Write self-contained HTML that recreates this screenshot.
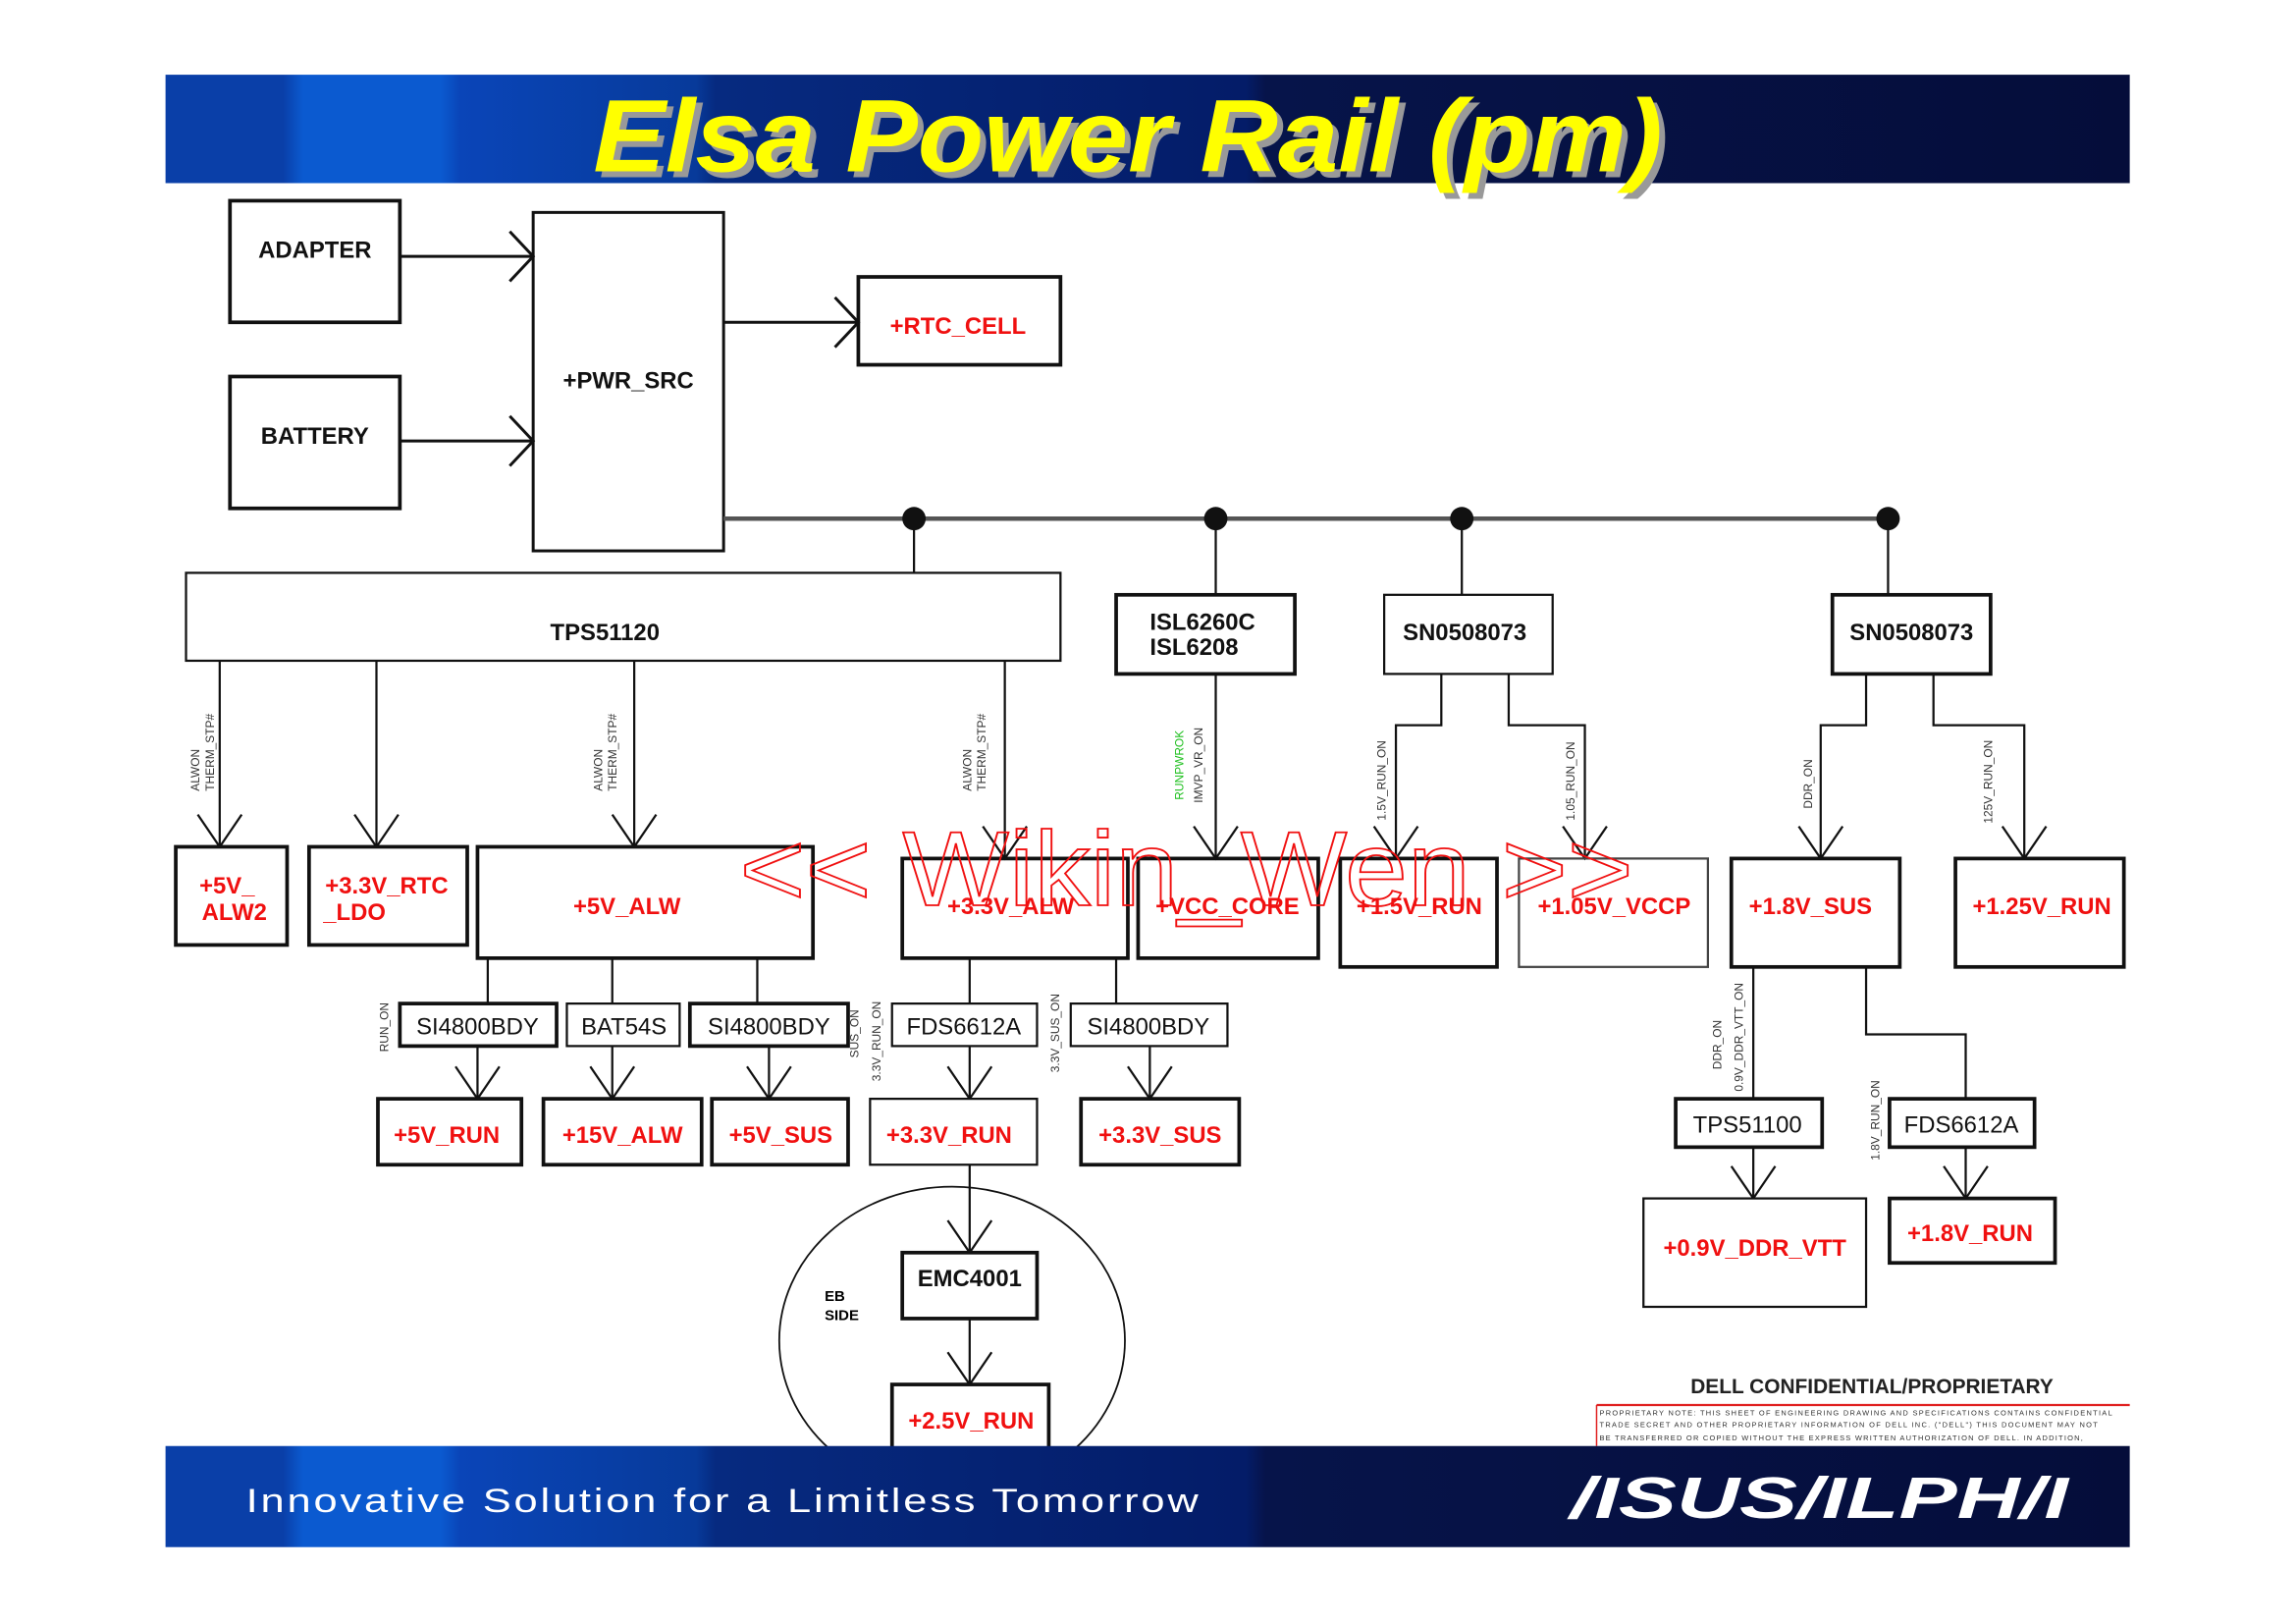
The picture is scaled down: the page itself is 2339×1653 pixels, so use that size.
<!DOCTYPE html>
<html><head><meta charset="utf-8"><style>
html,body{margin:0;padding:0;background:#fff}
svg{display:block}
text{font-family:"Liberation Sans",sans-serif}
.b{font-weight:bold;font-size:16px;fill:#111}
.r{font-weight:bold;font-size:16px;fill:#f01010}
.n{font-size:16px;fill:#111}
.s{font-size:8px;fill:#333}
</style></head><body>
<svg width="2339" height="1653" viewBox="0 0 1567.5 1107.8" preserveAspectRatio="none" xmlns="http://www.w3.org/2000/svg">
<defs>
<linearGradient id="g" x1="0" x2="1" y1="0" y2="0">
<stop offset="0" stop-color="#0a3fa8"/><stop offset="0.06" stop-color="#0a3fa8"/>
<stop offset="0.07" stop-color="#0b5ad0"/><stop offset="0.14" stop-color="#0b5ad0"/>
<stop offset="0.15" stop-color="#0a45b8"/><stop offset="0.27" stop-color="#073a9a"/>
<stop offset="0.28" stop-color="#062a80"/><stop offset="0.55" stop-color="#041c68"/>
<stop offset="0.56" stop-color="#06144a"/><stop offset="1" stop-color="#050d3a"/>
</linearGradient>
</defs>
<rect x="113" y="51" width="1341" height="74" fill="url(#g)"/>
<text x="770" y="117" text-anchor="middle" font-size="70" font-weight="bold" font-style="italic" fill="#999" transform="translate(4,4)" textLength="730" lengthAdjust="spacingAndGlyphs">Elsa Power Rail (pm)</text>
<text x="770" y="117" text-anchor="middle" font-size="70" font-weight="bold" font-style="italic" fill="#ffff00" textLength="730" lengthAdjust="spacingAndGlyphs">Elsa Power Rail (pm)</text>

<g fill="none" stroke="#111" stroke-width="2">
<rect x="157" y="137" width="116" height="83" stroke-width="2.5"/>
<rect x="157" y="257" width="116" height="90" stroke-width="2.5"/>
<rect x="364" y="145" width="130" height="231"/>
<rect x="586" y="189" width="138" height="60" stroke-width="2.5"/>
<line x1="273" y1="175" x2="364" y2="175"/><path d="M348 158 L364 175 L348 192"/>
<line x1="273" y1="301" x2="364" y2="301"/><path d="M348 284 L364 301 L348 318"/>
<line x1="494" y1="220" x2="586" y2="220"/><path d="M570 203 L586 220 L570 237"/>
<line x1="494" y1="354" x2="1290" y2="354" stroke="#555" stroke-width="3"/>
<line x1="624" y1="354" x2="624" y2="391" stroke-width="1.5"/>
<line x1="830" y1="354" x2="830" y2="406" stroke-width="1.5"/>
<line x1="998" y1="354" x2="998" y2="406" stroke-width="1.5"/>
<line x1="1289" y1="354" x2="1289" y2="406" stroke-width="1.5"/>
<rect x="127" y="391" width="597" height="60" stroke-width="1.5"/>
<rect x="762" y="406" width="122" height="54" stroke-width="2.5"/>
<rect x="945" y="406" width="115" height="54" stroke-width="1.5"/>
<rect x="1251" y="406" width="108" height="54" stroke-width="2.5"/>
</g>
<g fill="#111"><circle cx="624" cy="354" r="8"/><circle cx="830" cy="354" r="8"/><circle cx="998" cy="354" r="8"/><circle cx="1289" cy="354" r="8"/></g>

<g fill="none" stroke="#111" stroke-width="1.5">
<line x1="150" y1="451" x2="150" y2="578"/><path d="M135 556 L150 578 L165 556"/>
<line x1="257" y1="451" x2="257" y2="578"/><path d="M242 556 L257 578 L272 556"/>
<line x1="433" y1="451" x2="433" y2="578"/><path d="M418 556 L433 578 L448 556"/>
<line x1="686" y1="451" x2="686" y2="586"/><path d="M671 564 L686 586 L701 564"/>
<line x1="830" y1="460" x2="830" y2="586"/><path d="M815 564 L830 586 L845 564"/>
<path d="M984 460 V495 H953 V586"/><path d="M938 564 L953 586 L968 564"/>
<path d="M1030 460 V495 H1082 V586"/><path d="M1067 564 L1082 586 L1097 564"/>
<path d="M1274 460 V495 H1243 V586"/><path d="M1228 564 L1243 586 L1258 564"/>
<path d="M1320 460 V495 H1382 V586"/><path d="M1367 564 L1382 586 L1397 564"/>
<line x1="333" y1="654" x2="333" y2="685"/><line x1="418" y1="654" x2="418" y2="685"/><line x1="517" y1="654" x2="517" y2="685"/>
<line x1="326" y1="714" x2="326" y2="750"/><path d="M311 728 L326 750 L341 728"/>
<line x1="418" y1="714" x2="418" y2="750"/><path d="M403 728 L418 750 L433 728"/>
<line x1="525" y1="714" x2="525" y2="750"/><path d="M510 728 L525 750 L540 728"/>
<line x1="662" y1="654" x2="662" y2="685"/><line x1="762" y1="654" x2="762" y2="685"/>
<line x1="662" y1="714" x2="662" y2="750"/><path d="M647 728 L662 750 L677 728"/>
<line x1="785" y1="714" x2="785" y2="750"/><path d="M770 728 L785 750 L800 728"/>
<line x1="662" y1="795" x2="662" y2="855"/><path d="M647 833 L662 855 L677 833"/>
<line x1="662" y1="900" x2="662" y2="945"/><path d="M647 923 L662 945 L677 923"/>
<ellipse cx="650" cy="915" rx="118" ry="105" stroke-width="1.2"/>
<line x1="1197" y1="660" x2="1197" y2="750"/>
<path d="M1274 660 V706 H1342 V750"/>
<line x1="1197" y1="783" x2="1197" y2="818"/><path d="M1182 796 L1197 818 L1212 796"/>
<line x1="1342" y1="783" x2="1342" y2="818"/><path d="M1327 796 L1342 818 L1357 796"/>
</g>

<g fill="#fff" stroke="#111" stroke-width="2.5">
<rect x="120" y="578" width="76" height="67"/>
<rect x="211" y="578" width="108" height="67"/>
<rect x="326" y="578" width="229" height="76"/>
<rect x="616" y="586" width="154" height="68" fill="none"/>
<rect x="777" y="586" width="123" height="68" fill="none"/>
<rect x="915" y="586" width="107" height="74" fill="none"/>
<rect x="1037" y="586" width="129" height="74" fill="none" stroke="#444" stroke-width="1.5"/>
<rect x="1182" y="586" width="115" height="74"/>
<rect x="1335" y="586" width="115" height="74"/>
<rect x="273" y="685" width="107" height="29"/>
<rect x="387" y="685" width="77" height="29" stroke-width="1.5"/>
<rect x="471" y="685" width="108" height="29"/>
<rect x="609" y="685" width="99" height="29" stroke-width="1.5"/>
<rect x="731" y="685" width="107" height="29" stroke-width="1.5"/>
<rect x="258" y="750" width="98" height="45"/>
<rect x="371" y="750" width="108" height="45"/>
<rect x="486" y="750" width="93" height="45"/>
<rect x="594" y="750" width="114" height="45" stroke-width="1.5"/>
<rect x="738" y="750" width="108" height="45"/>
<rect x="616" y="855" width="92" height="45"/>
<rect x="609" y="945" width="107" height="50"/>
<rect x="1144" y="750" width="100" height="33"/>
<rect x="1290" y="750" width="99" height="33"/>
<rect x="1122" y="818" width="152" height="74" stroke-width="1.5"/>
<rect x="1290" y="818" width="113" height="44"/>
</g>

<g class="b">
<text x="215" y="176" text-anchor="middle">ADAPTER</text>
<text x="215" y="303" text-anchor="middle">BATTERY</text>
<text x="429" y="265" text-anchor="middle">+PWR_SRC</text>
<text x="413" y="437" text-anchor="middle">TPS51120</text>
<text x="785" y="430">ISL6260C</text>
<text x="785" y="447">ISL6208</text>
<text x="1000" y="437" text-anchor="middle">SN0508073</text>
<text x="1305" y="437" text-anchor="middle">SN0508073</text>
<text x="662" y="878" text-anchor="middle" class="n">EMC4001</text>
</g>
<g class="n" text-anchor="middle">
<text x="326" y="706">SI4800BDY</text>
<text x="426" y="706">BAT54S</text>
<text x="525" y="706">SI4800BDY</text>
<text x="658" y="706">FDS6612A</text>
<text x="784" y="706">SI4800BDY</text>
<text x="1193" y="773">TPS51100</text>
<text x="1339" y="773">FDS6612A</text>
</g>
<g class="r" text-anchor="middle">
<text x="654" y="228">+RTC_CELL</text>
<text x="155" y="610">+5V_</text><text x="160" y="628">ALW2</text>
<text x="264" y="610">+3.3V_RTC</text><text x="242" y="628">_LDO</text>
<text x="428" y="624">+5V_ALW</text>
<text x="690" y="624">+3.3V_ALW</text>
<text x="838" y="624">+VCC_CORE</text>
<text x="969" y="624">+1.5V_RUN</text>
<text x="1102" y="624">+1.05V_VCCP</text>
<text x="1236" y="624">+1.8V_SUS</text>
<text x="1394" y="624">+1.25V_RUN</text>
<text x="305" y="780">+5V_RUN</text>
<text x="425" y="780">+15V_ALW</text>
<text x="533" y="780">+5V_SUS</text>
<text x="648" y="780">+3.3V_RUN</text>
<text x="792" y="780">+3.3V_SUS</text>
<text x="663" y="975">+2.5V_RUN</text>
<text x="1198" y="857">+0.9V_DDR_VTT</text>
<text x="1345" y="847">+1.8V_RUN</text>
</g>

<g class="s">
<text transform="translate(136,540) rotate(-90)">ALWON</text>
<text transform="translate(146,540) rotate(-90)">THERM_STP#</text>
<text transform="translate(411,540) rotate(-90)">ALWON</text>
<text transform="translate(421,540) rotate(-90)">THERM_STP#</text>
<text transform="translate(663,540) rotate(-90)">ALWON</text>
<text transform="translate(673,540) rotate(-90)">THERM_STP#</text>
<text transform="translate(808,546) rotate(-90)" fill="#20c020">RUNPWROK</text>
<text transform="translate(821,548) rotate(-90)">IMVP_VR_ON</text>
<text transform="translate(946,560) rotate(-90)">1.5V_RUN_ON</text>
<text transform="translate(1075,560) rotate(-90)">1.05_RUN_ON</text>
<text transform="translate(1237,552) rotate(-90)">DDR_ON</text>
<text transform="translate(1360,562) rotate(-90)">125V_RUN_ON</text>
<text transform="translate(265,718) rotate(-90)">RUN_ON</text>
<text transform="translate(586,722) rotate(-90)">SUS_ON</text>
<text transform="translate(601,738) rotate(-90)">3.3V_RUN_ON</text>
<text transform="translate(723,732) rotate(-90)">3.3V_SUS_ON</text>
<text transform="translate(1175,730) rotate(-90)">DDR_ON</text>
<text transform="translate(1190,745) rotate(-90)">0.9V_DDR_VTT_ON</text>
<text transform="translate(1283,792) rotate(-90)">1.8V_RUN_ON</text>
</g>
<text x="563" y="888" font-size="10" font-weight="bold" font-family="Liberation Mono,monospace">EB</text>
<text x="563" y="901" font-size="10" font-weight="bold" font-family="Liberation Mono,monospace">SIDE</text>

<text x="810" y="618" text-anchor="middle" font-family="Liberation Serif,serif" font-size="72" fill="none" stroke="#f01010" stroke-width="1.2" textLength="610" lengthAdjust="spacingAndGlyphs">&lt;&lt; Wikin_Wen &gt;&gt;</text>

<text x="1278" y="951" text-anchor="middle" font-size="14" font-weight="bold" fill="#222">DELL CONFIDENTIAL/PROPRIETARY</text>
<line x1="1090" y1="959" x2="1454" y2="959" stroke="#e02020" stroke-width="1.5"/>
<line x1="1090" y1="959" x2="1090" y2="987" stroke="#e02020" stroke-width="1"/>
<g font-size="5" fill="#333" font-family="Liberation Serif,serif">
<text x="1092" y="966" textLength="350">PROPRIETARY NOTE: THIS SHEET OF ENGINEERING DRAWING AND SPECIFICATIONS CONTAINS CONFIDENTIAL</text>
<text x="1092" y="974" textLength="340">TRADE SECRET AND OTHER PROPRIETARY INFORMATION OF DELL INC. ("DELL") THIS DOCUMENT MAY NOT</text>
<text x="1092" y="983" textLength="330">BE TRANSFERRED OR COPIED WITHOUT THE EXPRESS WRITTEN AUTHORIZATION OF DELL. IN ADDITION,</text>
</g>

<rect x="113" y="987" width="1341" height="69" fill="url(#g)"/>
<text x="168" y="1032" font-size="23" fill="#fff" letter-spacing="1.5" textLength="652" lengthAdjust="spacingAndGlyphs">Innovative Solution for a Limitless Tomorrow</text>
<text x="1072" y="1036" font-size="40" font-weight="bold" font-style="italic" fill="#fff" textLength="340" lengthAdjust="spacingAndGlyphs">/ISUS/ILPH/I</text>
</svg>
</body></html>
